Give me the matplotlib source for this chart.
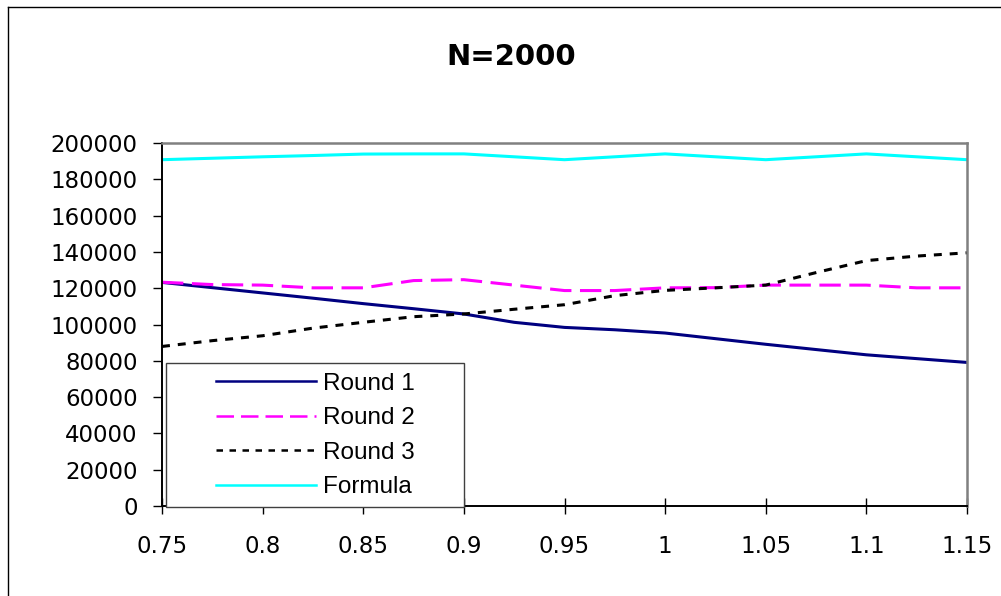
import matplotlib
matplotlib.use("Agg")
import matplotlib.pyplot as plt
from matplotlib.lines import Line2D
from matplotlib.patches import Rectangle

# ---- data ----
x_values = [0.75, 0.775, 0.8, 0.825, 0.85, 0.875, 0.9, 0.925, 0.95,
            0.975, 1.0, 1.025, 1.05, 1.075, 1.1, 1.125, 1.15]
round1 = [123200, 120300, 117400, 114500, 111500, 108700, 105800, 101200, 98400,
          97100, 95300, 92200, 89100, 86200, 83300, 81200, 79100]
round2 = [123300, 122000, 121700, 120200, 120200, 124200, 124700, 121700, 118700,
          118700, 120200, 120300, 121700, 121700, 121700, 120200, 120200]
round3 = [87900, 91100, 93800, 98000, 101200, 104300, 105800, 108400, 110900,
          115900, 118800, 120200, 121700, 128600, 135200, 137700, 139500]
formula = [190800, 191600, 192400, 193100, 193900, 194000, 194000, 192400, 190800,
           192400, 194000, 192400, 190800, 192400, 194000, 192400, 190800]
series_names = ["Round 1", "Round 2", "Round 3", "Formula"]
x_ticks = [0.75, 0.8, 0.85, 0.9, 0.95, 1.0, 1.05, 1.1, 1.15]
x_tick_labels = ["0.75", "0.8", "0.85", "0.9", "0.95", "1", "1.05", "1.1", "1.15"]
y_ticks = list(range(0, 200001, 20000))
title = "N=2000"

W, H = 1001, 596
fig = plt.figure(figsize=(W / 100, H / 100), dpi=100)
fig.patch.set_facecolor("white")

def fx(px):
    return px / W

def fy(py):
    return 1 - py / H

ax = fig.add_axes([fx(162), fy(506), fx(967) - fx(162), fy(143) - fy(506)])

lw = 2.2
l1, = ax.plot(x_values, round1, color="#000080", lw=lw)
l2, = ax.plot(x_values, round2, color="#FF00FF", lw=lw, dashes=(7.0, 2.8))
l3, = ax.plot(x_values, round3, color="black", lw=lw, dashes=(2.6, 2.6))
l4, = ax.plot(x_values, formula, color="#00FFFF", lw=lw)

ax.set_xlim(0.75, 1.15)
ax.set_ylim(0, 200000)
ax.set_xticks(x_ticks)
ax.set_xticklabels(x_tick_labels)
ax.set_yticks(y_ticks)
ax.set_yticklabels([str(v) for v in y_ticks])

for lab in ax.get_xticklabels() + ax.get_yticklabels():
    lab.set_fontfamily("DejaVu Sans")
    lab.set_fontsize(16.5)

ax.tick_params(axis="y", direction="out", length=6.5, width=1, pad=11, colors="black")
ax.tick_params(axis="x", direction="inout", length=11.5, width=1, pad=15, colors="black")

for s in ["top", "right"]:
    ax.spines[s].set_color("#808080")
    ax.spines[s].set_linewidth(1.8)
for s in ["left", "bottom"]:
    ax.spines[s].set_color("black")
    ax.spines[s].set_linewidth(1.4)

# title
fig.text(fx(511), fy(57), title, ha="center", va="center",
         fontsize=21, fontweight="bold", family="DejaVu Sans")

# legend box
rect = Rectangle((fx(166), fy(507)), fx(464) - fx(166), fy(363) - fy(507),
                 transform=fig.transFigure, facecolor="white", edgecolor="#404040",
                 lw=1.0, zorder=5)
fig.add_artist(rect)
leg = fig.legend([l1, l2, l3, l4], series_names, loc="upper left",
                 bbox_to_anchor=(fx(216), fy(372.5)), bbox_transform=fig.transFigure,
                 frameon=False, borderpad=0, borderaxespad=0,
                 handlelength=4.1, handletextpad=0.3, labelspacing=0.52,
                 prop=dict(family="Liberation Sans", size=17.5))
leg.set_zorder(6)
for h in leg.legend_handles:
    h.set_linewidth(1.8)

# outer chart border
fig.add_artist(Line2D([fx(8), fx(8)], [fy(7), 0], transform=fig.transFigure,
                      color="black", lw=1.0))
fig.add_artist(Line2D([fx(8), 1], [fy(7), fy(7)], transform=fig.transFigure,
                      color="black", lw=1.0))

fig.savefig("out.png", dpi=100)
